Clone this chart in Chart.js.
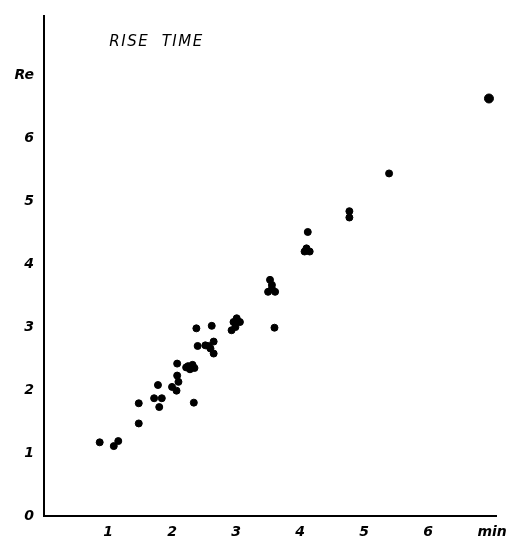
<!DOCTYPE html>
<html>
<head>
<meta charset="utf-8">
<script src="https://cdn.jsdelivr.net/npm/chart.js@4"></script>
<style>
  html, body { margin: 0; padding: 0; background: #fff; }
  #wrap { width: 508px; height: 543px; }
</style>
</head>
<body>
<div id="wrap"><canvas id="chart"></canvas></div>
<script>
// rise time (min) vs Re
var riseX = [0.87, 1.09, 1.16, 1.48, 1.48, 1.72, 1.84, 1.80, 1.78, 2.34,
             2.00, 2.07, 2.10, 2.08, 2.08, 2.25, 2.32, 2.28, 2.35, 2.22,
             2.38, 2.62, 2.40, 2.52, 2.65, 2.60, 2.65, 2.57,
             3.01, 2.96, 3.06, 2.93, 2.99, 3.60,
             3.56, 3.56, 3.50, 3.61, 3.53,
             4.12, 4.10, 4.07, 4.15, 4.77, 4.77, 5.39, 6.95];
var riseY = [1.17, 1.11, 1.19, 1.47, 1.79, 1.87, 1.87, 1.73, 2.08, 1.80,
             2.05, 1.99, 2.13, 2.23, 2.42, 2.38, 2.40, 2.33, 2.35, 2.36,
             2.98, 3.02, 2.70, 2.71, 2.77, 2.66, 2.58, 2.70,
             3.14, 3.08, 3.08, 2.95, 3.00, 2.99,
             3.67, 3.61, 3.56, 3.56, 3.75,
             4.51, 4.25, 4.20, 4.20, 4.84, 4.74, 5.44, 6.63];

var xTicks = [0, 1, 2, 3, 4, 5, 6, 7];
var xLabels = ['', '1', '2', '3', '4', '5', '6', 'min'];
var yTicks = [0, 1, 2, 3, 4, 5, 6, 7];
var yLabels = ['0', '1', '2', '3', '4', '5', '6', 'Re'];

var points = riseX.map(function (x, i) { return { x: x, y: riseY[i] }; });

var tickFont = { family: 'DejaVu Sans', size: 14, style: 'italic', weight: 'bold' };

// "RISE TIME" caption inside the plot
var captionPlugin = {
    id: 'caption',
    afterDraw: function (chart) {
        var c = chart.ctx;
        var xs = chart.scales.x, ys = chart.scales.y;
        c.save();
        c.font = 'italic 15px "DejaVu Sans"';
        c.letterSpacing = '1.5px';
        c.fillStyle = '#000';
        c.textBaseline = 'middle';
        c.fillText('RISE  TIME', xs.getPixelForValue(1.02), ys.getPixelForValue(7.53));
        c.restore();
    }
};

var ctx = document.getElementById('chart').getContext('2d');
var chart = new Chart(ctx, {
    type: 'scatter',
    data: {
        datasets: [{
            label: 'Rise time',
            data: points,
            backgroundColor: '#000',
            borderColor: '#000',
            pointRadius: function (c) { return c.dataIndex === points.length - 1 ? 4.5 : 3.5; },
            pointHoverRadius: 4
        }]
    },
    options: {
        responsive: true,
        maintainAspectRatio: false,
        animation: false,
        layout: { padding: { top: 16, right: 12, left: 0, bottom: 0 } },
        plugins: {
            legend: { display: false },
            tooltip: { enabled: false }
        },
        scales: {
            x: {
                type: 'linear',
                min: 0,
                max: 7.06,
                afterBuildTicks: function (s) { s.ticks = xTicks.map(function (v) { return { value: v }; }); },
                afterFit: function (s) { s.height = 27; },
                grid: { display: false },
                border: { color: '#000', width: 2 },
                ticks: {
                    color: '#000',
                    font: tickFont,
                    padding: 0,
                    maxRotation: 0,
                    callback: function (v) { return xLabels[xTicks.indexOf(v)]; }
                }
            },
            y: {
                type: 'linear',
                min: 0,
                max: 7.94,
                afterBuildTicks: function (s) { s.ticks = yTicks.map(function (v) { return { value: v }; }); },
                afterFit: function (s) { s.width = 44; },
                grid: { display: false },
                border: { color: '#000', width: 2 },
                ticks: {
                    color: '#000',
                    font: tickFont,
                    padding: 2,
                    callback: function (v) { return yLabels[yTicks.indexOf(v)]; }
                }
            }
        }
    },
    plugins: [captionPlugin]
});
</script>
</body>
</html>
